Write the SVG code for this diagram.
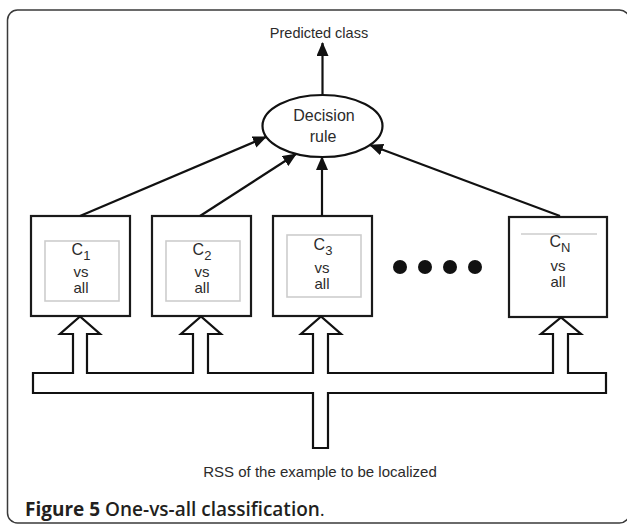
<svg xmlns="http://www.w3.org/2000/svg" width="627" height="524" viewBox="0 0 627 524">
  <style>
    .frame { fill: #ffffff; stroke: #3a3a3a; stroke-width: 1.5; }
    .box { fill: #ffffff; stroke: #1a1a1a; stroke-width: 2.2; }
    .inner { fill: none; stroke: #cdcdcd; stroke-width: 1.6; }
    .lbl { font-family: "Liberation Sans", Arial, sans-serif; fill: #2b2b2b; text-anchor: middle; }
    .conn { fill: none; stroke: #111111; stroke-width: 2.2; }
    .pipe { fill: #ffffff; stroke: #111111; stroke-width: 2.2; stroke-linejoin: miter; }
    .cap { font-family: "Open Sans", "Noto Sans", sans-serif; fill: #231f20; font-size: 19px; }
  </style>
  <defs>
    <marker id="ah" markerUnits="userSpaceOnUse" markerWidth="14" markerHeight="12" refX="13" refY="6" orient="auto">
      <path d="M0,0 L14,6 L0,12 Z" fill="#111111"/>
    </marker>
  </defs>

  <rect class="frame" x="7.5" y="10" width="622" height="513" rx="10" ry="10"/>

  <g id="output">
    <text class="lbl" x="319" y="38" font-size="14.5">Predicted class</text>
  </g>

  <g id="decision">
    <ellipse cx="322.5" cy="126" rx="60" ry="31" fill="#ffffff" stroke="#111111" stroke-width="2.2"/>
    <text class="lbl" x="324" y="121" font-size="16">Decision</text>
    <text class="lbl" x="323" y="142" font-size="16">rule</text>
  </g>

  <g id="c1">
    <rect class="box" x="31" y="216" width="99" height="100"/>
    <rect class="inner" x="45" y="241" width="74" height="60"/>
    <text class="lbl" x="81" y="255" font-size="16">C<tspan dy="5" font-size="13">1</tspan></text>
    <text class="lbl" x="81" y="277" font-size="15">vs</text>
    <text class="lbl" x="81" y="293" font-size="15">all</text>
  </g>

  <g id="c2">
    <rect class="box" x="152" y="216" width="99" height="100"/>
    <rect class="inner" x="166" y="241" width="74" height="60"/>
    <text class="lbl" x="202" y="255" font-size="16">C<tspan dy="5" font-size="13">2</tspan></text>
    <text class="lbl" x="202" y="277" font-size="15">vs</text>
    <text class="lbl" x="202" y="293" font-size="15">all</text>
  </g>

  <g id="c3">
    <rect class="box" x="273" y="216" width="99" height="100"/>
    <rect class="inner" x="287" y="235" width="74" height="62"/>
    <text class="lbl" x="323" y="250" font-size="16">C<tspan dy="5" font-size="13">3</tspan></text>
    <text class="lbl" x="322" y="273" font-size="15">vs</text>
    <text class="lbl" x="322" y="289" font-size="15">all</text>
  </g>

  <g id="ellipsis">
    <circle cx="400" cy="267" r="7" fill="#111111"/>
    <circle cx="425" cy="267" r="7" fill="#111111"/>
    <circle cx="450" cy="267" r="7" fill="#111111"/>
    <circle cx="475" cy="267" r="7" fill="#111111"/>
  </g>

  <g id="cN">
    <rect class="box" x="509" y="217" width="98" height="100"/>
    <line x1="521" y1="234" x2="597" y2="234" stroke="#cdcdcd" stroke-width="1.6"/>
    <text class="lbl" x="560" y="247" font-size="16">C<tspan dy="5" font-size="13">N</tspan></text>
    <text class="lbl" x="558" y="271" font-size="15">vs</text>
    <text class="lbl" x="558" y="287" font-size="15">all</text>
  </g>

  <g id="input">
    <path class="pipe" d="M33,393 L33,373 L73,373 L73,334 L60,334 L80,316.5 L100,334 L87,334 L87,373 L193,373 L193,334 L181,334 L201,316.5 L221,334 L208,334 L208,373 L313,373 L313,334 L301,334 L321,316.5 L341,334 L328,334 L328,373 L553,373 L553,334 L541,334 L561,317.5 L581,334 L568,334 L568,373 L606,373 L606,393 L328,393 L328,448 L313,448 L313,393 Z"/>
    <text class="lbl" x="320" y="477" font-size="15">RSS of the example to be localized</text>
  </g>

  <g id="connectors">
    <line class="conn" x1="322.5" y1="95" x2="322.5" y2="43" marker-end="url(#ah)"/>
    <line class="conn" x1="80" y1="216" x2="266" y2="137" marker-end="url(#ah)"/>
    <line class="conn" x1="200" y1="216" x2="296" y2="154" marker-end="url(#ah)"/>
    <line class="conn" x1="322" y1="216" x2="322" y2="157" marker-end="url(#ah)"/>
    <line class="conn" x1="560" y1="216" x2="370" y2="145" marker-end="url(#ah)"/>
  </g>

  <text class="cap" x="25" y="516"><tspan font-weight="700">Figure 5</tspan><tspan font-weight="600"> One-vs-all classification</tspan><tspan font-weight="400">.</tspan></text>
</svg>
